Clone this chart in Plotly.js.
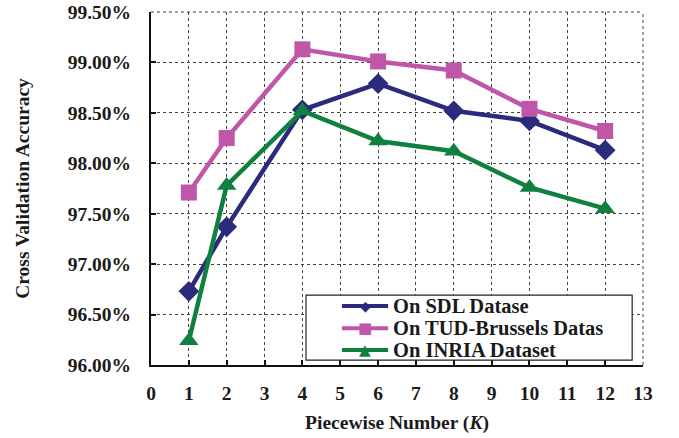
<!DOCTYPE html>
<html><head><meta charset="utf-8">
<script src="https://cdn.plot.ly/plotly-3.0.1.min.js"></script>
<style>html,body{margin:0;padding:0;background:#fff}</style>
</head><body><div id="chart" style="width:679px;height:438px"></div>
<script>
const kValues = [1, 2, 4, 6, 8, 10, 12];
const sdlAcc = [96.73, 97.37, 98.53, 98.79, 98.52, 98.42, 98.13];
const tudAcc = [97.71, 98.25, 99.13, 99.01, 98.92, 98.54, 98.32];
const inriaAcc = [96.24, 97.78, 98.52, 98.22, 98.12, 97.76, 97.55];
const seriesNames = ["On SDL Datase", "On TUD-Brussels Datas", "On INRIA Dataset"];
const seriesColors = ["#2B2A7C", "#C056A8", "#0F8040"];
const legendGlyphs = ["\u25C6", "\u25A0", "\u25B2"];
const xTicks = [0,1,2,3,4,5,6,7,8,9,10,11,12,13];
const yTicks = [96.0, 96.5, 97.0, 97.5, 98.0, 98.5, 99.0, 99.5];

const FAM = "Liberation Serif";
const TXT = "#1a1a1a";
const traces = [
  {x: kValues, y: sdlAcc, name: seriesNames[0], mode: "lines+markers",
   line: {color: seriesColors[0], width: 4.5}, marker: {symbol: "diamond", size: 16, color: seriesColors[0]}},
  {x: kValues, y: tudAcc, name: seriesNames[1], mode: "lines+markers",
   line: {color: seriesColors[1], width: 4.5}, marker: {symbol: "square", size: 16, color: seriesColors[1]}},
  {x: kValues, y: inriaAcc, name: seriesNames[2], mode: "lines+markers",
   line: {color: seriesColors[2], width: 4.5}, marker: {symbol: "triangle-up", size: 17, color: seriesColors[2]}}
];

// custom legend (box, line samples, glyphs, labels) in paper coordinates
const rowY = [0.167, 0.104, 0.0425];
const shapes = [
  {type: "line", xref: "paper", yref: "paper", x0: 0, x1: 1, y0: 1, y1: 1, line: {color: "#444", width: 1, dash: "dot"}},
  {type: "line", xref: "paper", yref: "paper", x0: 1, x1: 1, y0: 0, y1: 1, line: {color: "#444", width: 1, dash: "dot"}},
  {type: "rect", xref: "paper", yref: "paper", x0: 0.315, x1: 0.978, y0: 0.014, y1: 0.198,
   fillcolor: "#fff", line: {color: "#222", width: 1.2}, layer: "above"}
];
const annotations = [];
seriesNames.forEach((n, i) => {
  shapes.push({type: "line", xref: "paper", yref: "paper", x0: 0.388, x1: 0.482, y0: rowY[i], y1: rowY[i],
    line: {color: seriesColors[i], width: 4}, layer: "above"});
  annotations.push({xref: "paper", yref: "paper", x: 0.435, y: rowY[i], text: legendGlyphs[i], showarrow: false,
    xanchor: "center", yanchor: "middle", font: {family: "DejaVu Sans", size: i === 0 ? 14 : 15, color: seriesColors[i]}});
  annotations.push({xref: "paper", yref: "paper", x: 0.488, y: rowY[i], text: n, showarrow: false,
    xanchor: "left", yanchor: "middle", font: {family: FAM, size: 20.5, color: TXT, weight: "bold"}});
});

const layout = {
  width: 679, height: 438,
  margin: {l: 151, r: 36, t: 12, b: 73},
  paper_bgcolor: "#fff", plot_bgcolor: "#fff",
  font: {family: FAM, color: TXT},
  showlegend: false,
  xaxis: {range: [0, 13], tickvals: xTicks, ticktext: xTicks.map(String),
    showgrid: true, gridcolor: "#444", griddash: "dot", gridwidth: 1,
    showline: true, linecolor: "#111", linewidth: 2, ticks: "inside", ticklen: 5, tickcolor: "#111", tickwidth: 2,
    zeroline: false, ticklabelstandoff: 10,
    tickfont: {family: FAM, size: 19.5, color: TXT, weight: "bold"},
    title: {text: "Piecewise Number (<i>K</i>)", standoff: 12,
      font: {family: FAM, size: 19.5, color: TXT, weight: "bold"}}},
  yaxis: {range: [96, 99.5], tickvals: yTicks, ticktext: yTicks.map(v => v.toFixed(2) + "%"),
    showgrid: true, gridcolor: "#444", griddash: "dot", gridwidth: 1,
    showline: true, linecolor: "#111", linewidth: 2, ticks: "inside", ticklen: 5, tickcolor: "#111", tickwidth: 2,
    zeroline: false, ticklabelstandoff: 14,
    tickfont: {family: FAM, size: 19.5, color: TXT, weight: "bold"},
    title: {text: "Cross Validation Accuracy", standoff: 33,
      font: {family: FAM, size: 19.5, color: TXT, weight: "bold"}}},
  shapes: shapes,
  annotations: annotations
};
Plotly.newPlot("chart", traces, layout, {displayModeBar: false, staticPlot: true});
</script></body></html>
